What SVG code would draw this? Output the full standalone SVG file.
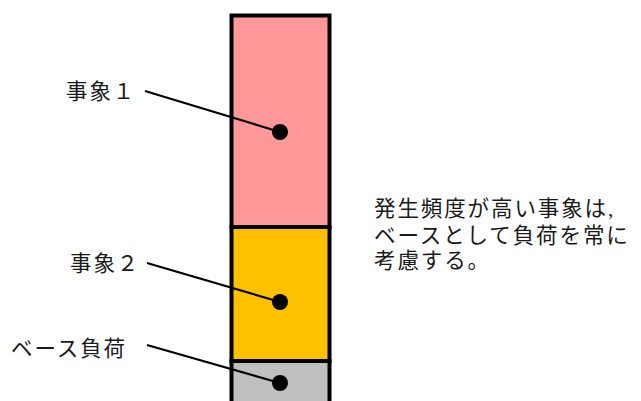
<svg xmlns="http://www.w3.org/2000/svg" width="641" height="401" viewBox="0 0 641 401">
<style>
.seg{stroke:#000;stroke-width:4}
.lbl{font-family:"Liberation Serif","Noto Sans CJK JP",serif;font-size:21.5px;letter-spacing:1.9px;fill:#1a1a1a}
.lead{stroke:#000;stroke-width:2.2;fill:none}
.dot{fill:#000}
</style>
<rect width="641" height="401" fill="#fff"/>
<g id="event1-segment"><rect class="seg" x="231.5" y="15.5" width="98" height="211.5" fill="#FF9999"/></g>
<g id="event2-segment"><rect class="seg" x="231.5" y="227" width="98" height="134" fill="#FFC000"/></g>
<g id="base-segment"><rect class="seg" x="231.5" y="361" width="98" height="50" fill="#BFBFBF"/></g>
<g id="label-event1"><text class="lbl" x="66" y="99">事象１</text></g>
<g id="label-event2"><text class="lbl" x="70" y="271">事象２</text></g>
<g id="label-base"><text class="lbl" x="11" y="356">ベース負荷</text></g>
<g id="note"><text class="lbl" x="374" y="216">発生頻度が高い事象は,</text><text class="lbl" x="374" y="243">ベースとして負荷を常に</text><text class="lbl" x="374" y="268">考慮する。</text></g>
<g id="connectors">
<line class="lead" x1="145" y1="91" x2="280" y2="132"/><circle class="dot" cx="280" cy="132" r="8"/>
<line class="lead" x1="147" y1="263" x2="280" y2="302"/><circle class="dot" cx="280" cy="302" r="8"/>
<line class="lead" x1="147" y1="345" x2="280" y2="383"/><circle class="dot" cx="280" cy="383" r="8"/>
</g>
</svg>
